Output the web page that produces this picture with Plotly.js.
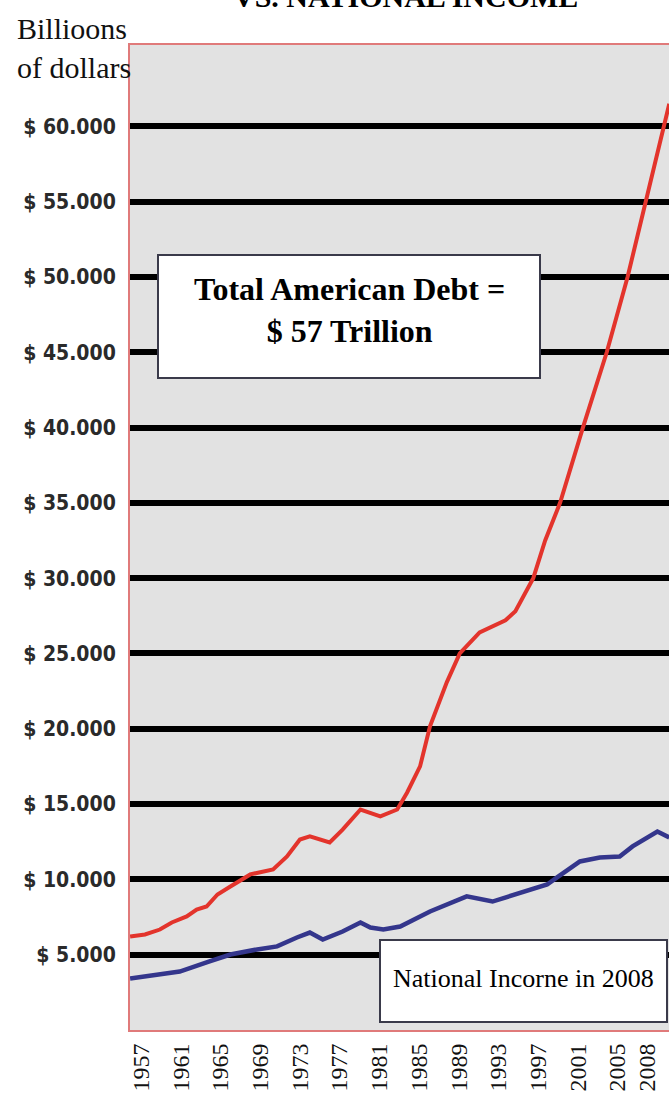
<!DOCTYPE html>
<html>
<head>
<meta charset="utf-8">
<script src="https://cdn.plot.ly/plotly-3.0.1.min.js"></script>
<style>html,body{margin:0;padding:0;background:#fff;overflow:hidden}#chart{width:669px;height:1098px}</style>
</head>
<body>
<div id="chart"></div>
<script>
// Total American debt (billions of dollars)
const debtYears = [1955.9,1957.4,1958.9,1960.1,1961.6,1962.6,1963.6,1964.7,1966.0,1968.0,1970.3,1971.7,1973.0,1974.0,1976.0,1977.3,1979.1,1981.1,1982.8,1983.8,1985.1,1986.1,1987.8,1989.1,1991.1,1993.7,1994.7,1996.5,1997.7,1999.2,2001.5,2003.9,2006.0,2007.8,2009.6,2010.2];
const debtValues = [6210,6340,6670,7140,7540,8000,8200,9000,9530,10330,10660,11520,12650,12850,12450,13300,14640,14180,14640,15770,17500,20160,23100,25000,26400,27200,27800,30000,32500,35000,40000,45000,50000,55000,60000,61500];

// National income (billions of dollars)
const incomeYears = [1955.9,1958.9,1960.9,1963.9,1966.0,1968.7,1970.7,1972.7,1974.0,1975.3,1977.3,1979.1,1980.1,1981.4,1983.1,1986.1,1989.8,1992.4,1995.2,1997.9,1998.9,2001.2,2003.2,2005.2,2006.5,2009.0,2010.2];
const incomeValues = [3420,3690,3880,4550,5010,5350,5550,6140,6470,6010,6540,7140,6800,6670,6870,7870,8870,8530,9130,9660,10130,11190,11450,11520,12190,13180,12780];

// Axis ticks
const xTickVals = [1957,1961,1965,1969,1973,1977,1981,1985,1989,1993,1997,2001,2005,2008];
const xTickText = ['1957','1961','1965','1969','1973','1977','1981','1985','1989','1993','1997','2001','2005','2008'];
const yTickVals = [5000,10000,15000,20000,25000,30000,35000,40000,45000,50000,55000,60000];
const yTickText = ['$ 5.000','$ 10.000','$ 15.000','$ 20.000','$ 25.000','$ 30.000','$ 35.000','$ 40.000','$ 45.000','$ 50.000','$ 55.000','$ 60.000'];

const serif = 'Liberation Serif, DejaVu Serif, serif';

const traces = [
  {x: debtYears, y: debtValues, type: 'scatter', mode: 'lines', name: 'Total American Debt',
   line: {color: '#e3342c', width: 4}, hoverinfo: 'x+y'},
  {x: incomeYears, y: incomeValues, type: 'scatter', mode: 'lines', name: 'National Income',
   line: {color: '#34368c', width: 4.5}, hoverinfo: 'x+y'}
];

const layout = {
  width: 669, height: 1098,
  margin: {l: 130, r: 0, t: 45, b: 68},
  paper_bgcolor: '#ffffff',
  plot_bgcolor: '#e2e2e2',
  showlegend: false,
  xaxis: {
    range: [1955.89, 2010.17],
    tickmode: 'array', tickvals: xTickVals, ticktext: xTickText,
    tickangle: -90, ticks: '', showgrid: false, zeroline: false,
    tickfont: {family: serif, size: 24, color: '#111'},
    ticklabelstandoff: 2,
    showline: true, linecolor: '#e07a7a', linewidth: 2, mirror: true
  },
  yaxis: {
    range: [0, 65400],
    tickmode: 'array', tickvals: yTickVals, ticktext: yTickText,
    ticks: '', showgrid: true, gridcolor: '#000000', gridwidth: 6, zeroline: false,
    tickfont: {family: 'DejaVu Sans Condensed, DejaVu Sans, sans-serif', size: 21, color: '#2a2a2a', weight: 'bold'},
    ticklabelstandoff: 8,
    showline: true, linecolor: '#e07a7a', linewidth: 2, mirror: false
  },
  shapes: [
    {type: 'rect', xref: 'paper', yref: 'paper',
     x0: (158-130)/539, x1: (540-130)/539, y0: (1030-378)/985, y1: (1030-255)/985,
     fillcolor: '#ffffff', line: {color: '#3a3a4a', width: 2}, layer: 'above'},
    {type: 'rect', xref: 'paper', yref: 'paper',
     x0: (380-130)/539, x1: (667-130)/539, y0: (1030-1022)/985, y1: (1030-940)/985,
     fillcolor: '#ffffff', line: {color: '#3a3a4a', width: 2}, layer: 'above'}
  ],
  annotations: [
    {text: 'VS. NATIONAL INCOME', xref: 'paper', yref: 'paper', x: (405-130)/539, y: 1 + (45-15)/985,
     xanchor: 'center', yanchor: 'bottom', showarrow: false,
     font: {family: serif, size: 30, color: '#000', weight: 'bold'}},
    {text: 'Billioons<br>of dollars', xref: 'paper', yref: 'paper', x: (15-130)/539, y: 1 + (45-10)/985,
     xanchor: 'left', yanchor: 'top', align: 'left', showarrow: false,
     font: {family: serif, size: 30, color: '#111'}},
    {text: 'Total American Debt =<br>$ 57 Trillion', xref: 'paper', yref: 'paper',
     x: (349-130)/539, y: (1030-310)/985, xanchor: 'center', yanchor: 'middle', align: 'center', showarrow: false,
     font: {family: serif, size: 32, color: '#000', weight: 'bold'}},
    {text: 'National Incorne in 2008', xref: 'paper', yref: 'paper',
     x: (523-130)/539, y: (1030-978)/985, xanchor: 'center', yanchor: 'middle', showarrow: false,
     font: {family: serif, size: 26, color: '#000'}}
  ]
};

Plotly.newPlot('chart', traces, layout, {displayModeBar: false, staticPlot: true});
</script>
</body>
</html>
